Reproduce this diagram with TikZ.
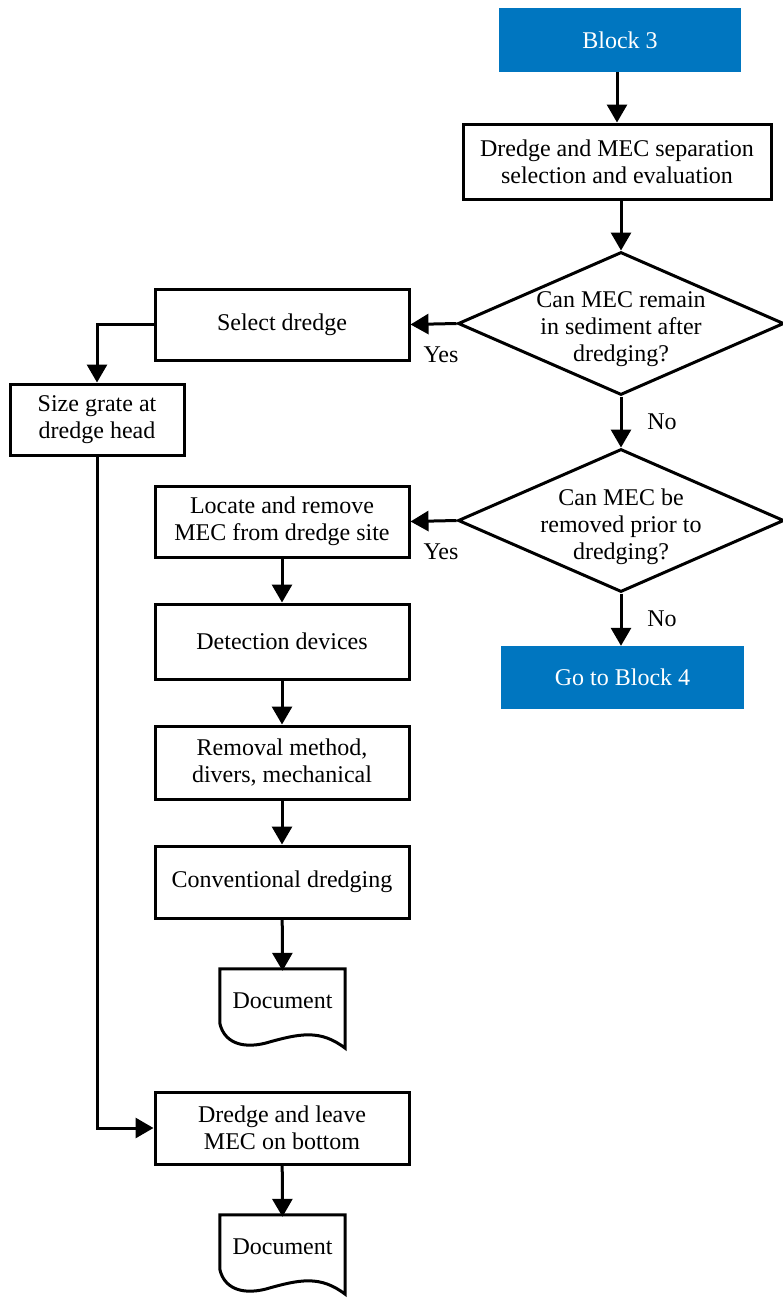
\documentclass[tikz,border=0pt]{standalone}
\usepackage{fontspec}
\setmainfont{Liberation Serif}
\usetikzlibrary{shapes.geometric,arrows.meta,calc}
\definecolor{blockblue}{RGB}{0,118,192}
\begin{document}
\begin{tikzpicture}[x=1pt,y=-1pt,
  every node/.style={font=\fontsize{24}{27}\selectfont},
  procbox/.style={draw, line width=3pt, rectangle, align=center, inner sep=0pt},
  bluebox/.style={fill=blockblue, draw=none, rectangle, text=white, align=center, inner sep=0pt},
  decision/.style={draw, line width=3pt, diamond, minimum width=326pt, minimum height=143pt, inner sep=0pt},
  docbox/.style={rectangle, minimum width=125pt, minimum height=60pt, inner sep=0pt},
  flow/.style={line width=3pt, -{Triangle[length=18pt,width=20pt]}},
  lab/.style={inner sep=0pt}
]
\useasboundingbox (0,0) rectangle (783,1298);

\node[bluebox, minimum width=242pt, minimum height=64pt] (b3) at (620,40) {Block 3};
\node[procbox, minimum width=308pt, minimum height=75pt] (sel) at (617,161.5) {Dredge and MEC separation\\selection and evaluation};
\node[decision] (d1) at (621,323.5) {};
\node[align=center] (t1) at ($(d1)+(0,6)$) {Can MEC remain\\in sediment after\\dredging?};
\node[decision] (d2) at (621,520.5) {};
\node[align=center] (t2) at ($(d2)+(0,6)$) {Can MEC be\\removed prior to\\dredging?};
\node[bluebox, minimum width=243pt, minimum height=63pt] (b4) at (622.5,677.5) {Go to Block 4};

\node[procbox, minimum width=254pt, minimum height=71pt] (sd) at (282,324.5) {Select dredge};
\node[procbox, minimum width=174pt, minimum height=71pt] (sg) at (97,419.5) {Size grate at\\dredge head};
\node[procbox, minimum width=254pt, minimum height=71pt] (lr) at (282,521.5) {Locate and remove\\MEC from dredge site};
\node[procbox, minimum width=254pt, minimum height=75pt] (dd) at (282,641.5) {Detection devices};
\node[procbox, minimum width=254pt, minimum height=73pt] (rm) at (282,762.5) {Removal method,\\divers, mechanical};
\node[procbox, minimum width=254pt, minimum height=72pt] (cd) at (282,882) {Conventional dredging};
\node[docbox] (doc1) at (282.5,1001) {Document};
\node[procbox, minimum width=254pt, minimum height=72pt] (dl) at (282,1128) {Dredge and leave\\MEC on bottom};
\node[docbox] (doc2) at (282.5,1247) {Document};

\foreach \d in {doc1,doc2}{
  \draw[line width=3pt, line join=miter]
    ($(\d.north west)+(0,-2)$) -- ($(\d.north east)+(0,-2)$) -- ($(\d.south east)+(0,17)$)
    .. controls ($(\d.south east)+(-25,-2)$) and ($(\d.south east)+(-45,2)$) .. ($(\d.south east)+(-80,12)$)
    .. controls ($(\d.south east)+(-105,18)$) and ($(\d.south west)+(4,10)$) .. ($(\d.south west)+(0,-8)$)
    -- cycle;
}

\draw[flow] (b3.south -| sel.north) -- (sel.north);
\draw[flow] (sel.south -| d1.north) -- (d1.north);
\draw[flow] (d1.west) -- (sd.east);
\draw[flow] (d1.south) -- (d2.north);
\draw[flow] (d2.west) -- (lr.east);
\draw[flow] (d2.south) -- (d2.south |- b4.north);
\draw[flow] (sd.west) -| (sg.north);
\draw[flow] (sg.south) |- (dl.west);
\draw[flow] (lr) -- (dd);
\draw[flow] (dd) -- (rm);
\draw[flow] (rm) -- (cd);
\draw[flow] (cd) -- (doc1.north);
\draw[flow] (dl) -- (doc2.north);

\node[lab] (y1) at (441,355) {Yes};
\node[lab] (y2) at (441,552) {Yes};
\node[lab] (n1) at (662,422) {No};
\node[lab] (n2) at (662,619) {No};
\end{tikzpicture}
\end{document}
